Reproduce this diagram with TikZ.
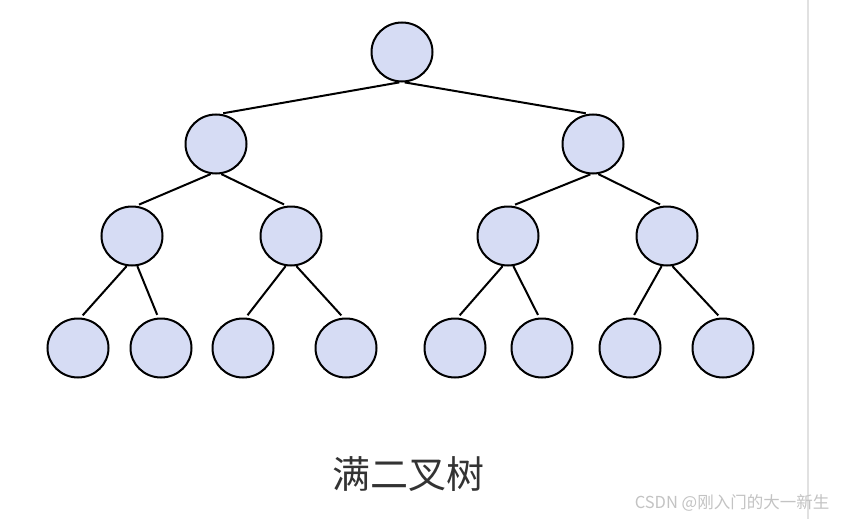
\documentclass[tikz,border=0pt]{standalone}
\usepackage{fontspec}
\newfontfamily\cjk{Noto Sans CJK SC}
\usetikzlibrary{shapes.geometric}
\definecolor{nodefill}{RGB}{214,220,244}
\definecolor{titlecol}{RGB}{51,51,51}
\definecolor{wmcol}{RGB}{195,195,195}
\definecolor{rulecol}{RGB}{225,225,225}
\begin{document}
\begin{tikzpicture}[x=1pt,y=-1pt,
  tnode/.style={ellipse,draw=black,line width=2pt,fill=nodefill,minimum width=61pt,minimum height=59pt,inner sep=0pt},
  edge/.style={line width=2pt,black,shorten >=3pt}]
\useasboundingbox (0,0) rectangle (849,519);
\fill[white] (0,0) rectangle (849,519);
\draw[rulecol,line width=2pt] (808,0) -- (808,519);
% nodes
\node[tnode] (r) at (402,52) {};
\node[tnode] (a) at (216,144) {};
\node[tnode] (b) at (593,144) {};
\node[tnode] (aa) at (132,236) {};
\node[tnode] (ab) at (291,236) {};
\node[tnode] (ba) at (508,236) {};
\node[tnode] (bb) at (667,236) {};
\node[tnode] (aaa) at (78,348) {};
\node[tnode] (aab) at (161,348) {};
\node[tnode] (aba) at (243,348) {};
\node[tnode] (abb) at (346,348) {};
\node[tnode] (baa) at (455,348) {};
\node[tnode] (bab) at (542,348) {};
\node[tnode] (bba) at (630,348) {};
\node[tnode] (bbb) at (723,348) {};
% edges
\draw[edge] (r.265) -- (a.82);
\draw[edge] (r.275) -- (b.98);
\draw[edge] (a.260) -- (aa.82);
\draw[edge] (a.280) -- (ab.98);
\draw[edge] (b.265) -- (ba.82);
\draw[edge] (b.280) -- (bb.98);
\draw[edge] (aa.260) -- (aaa.85);
\draw[edge] (aa.280) -- (aab.95);
\draw[edge] (ab.260) -- (aba.85);
\draw[edge] (ab.280) -- (abb.95);
\draw[edge] (ba.260) -- (baa.85);
\draw[edge] (ba.280) -- (bab.95);
\draw[edge] (bb.260) -- (bba.85);
\draw[edge] (bb.280) -- (bbb.95);
% texts
\node[text=titlecol,font=\cjk\fontsize{38}{40}\selectfont,inner sep=0pt] (title) at (408,474) {满二叉树};
\node[text=wmcol,font=\cjk\fontsize{16.5}{18}\selectfont,inner sep=0pt] (wm) at (732,503) {CSDN @刚入门的大一新生};
\end{tikzpicture}
\end{document}
